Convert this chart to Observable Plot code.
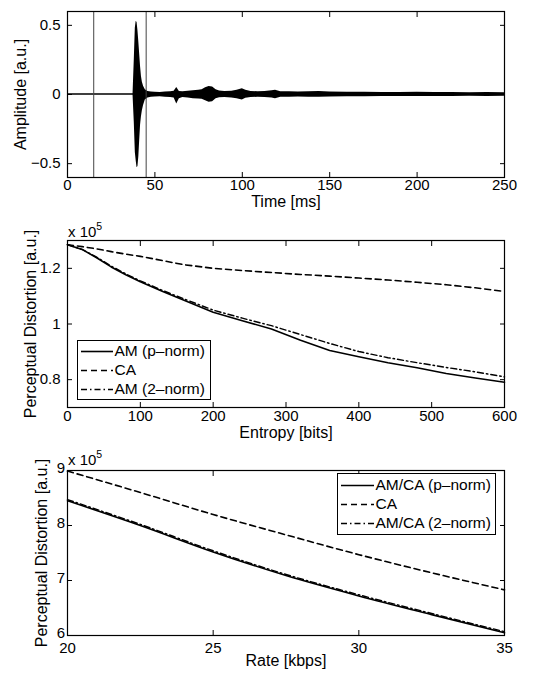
<!DOCTYPE html>
<html>
<head>
<meta charset="utf-8">
<script src="https://cdn.jsdelivr.net/npm/d3@7"></script>
<script src="https://cdn.jsdelivr.net/npm/@observablehq/plot@0.6"></script>
<style>
html,body{margin:0;padding:0;background:#fff;}
#root{position:relative;width:540px;height:673px;overflow:hidden;font-family:"Liberation Sans",Arial,Helvetica,sans-serif;color:#000;background:#fff;}
#root > svg{display:block;}
.legend{position:absolute;box-sizing:border-box;border:1.2px solid #000;background:#fff;font-size:15.5px;display:flex;flex-direction:column;justify-content:center;}
.legend .row{display:flex;align-items:center;height:19px;white-space:nowrap;}
.legend svg{flex:none;display:block;}
.exp{position:absolute;font-size:15px;line-height:18px;white-space:nowrap;}
.exp sup{font-size:10.5px;vertical-align:0;position:relative;top:-7px;}
</style>
</head>
<body>
<div id="root"></div>
<script>
// ---------- Panel 1: waveform envelope ----------
const timeMs = [
  0, 37.5, 38.2, 38.8, 39.3, 39.8, 40.3, 40.8, 41.3, 41.8,
  42.3, 42.8, 43.5, 44.5, 46, 48, 50, 53, 56, 59,
  61, 62.5, 64, 66, 69, 72, 75, 77, 79, 81,
  83, 85, 87, 90, 94, 97, 100, 102, 105, 109,
  113, 117, 119, 122, 127, 132, 138, 144, 150, 160,
  170, 180, 190, 200, 210, 220, 230, 240, 250
];
const amplitudeUpper = [
  .006, .006, .25, .48, .53, .52, .46, .38, .29, .20,
  .13, .09, .06, .035, .022, .018, .016, .015, .018, .020,
  .024, .050, .022, .020, .024, .028, .030, .035, .048, .058,
  .055, .035, .025, .022, .024, .030, .042, .030, .022, .020,
  .022, .028, .030, .020, .020, .018, .020, .022, .018, .016,
  .016, .015, .014, .016, .015, .014, .013, .014, .012
];
const amplitudeLower = [
  -.006, -.006, -.20, -.42, -.48, -.53, -.52, -.45, -.33, -.22,
  -.16, -.12, -.08, -.040, -.025, -.020, -.018, -.016, -.020, -.022,
  -.026, -.068, -.030, -.022, -.026, -.030, -.032, -.035, -.045, -.056,
  -.052, -.030, -.024, -.022, -.025, -.030, -.040, -.028, -.022, -.020,
  -.022, -.026, -.030, -.020, -.020, -.018, -.020, -.020, -.018, -.016,
  -.016, -.015, -.014, -.015, -.015, -.014, -.013, -.014, -.012
];
const markerTimes = [15, 45];
const timeTicks = [0, 50, 100, 150, 200, 250];
const amplitudeTicks = [-0.5, 0, 0.5];

// ---------- Panel 2: distortion vs entropy (x 10^5) ----------
const entropyBits   = [0, 20, 40, 60, 80, 100, 130, 160, 200, 240, 280, 320, 360, 400, 440, 480, 520, 560, 600];
const amPnormEnt    = [1.285, 1.268, 1.238, 1.205, 1.177, 1.152, 1.118, 1.085, 1.042, 1.012, 0.982, 0.942, 0.905, 0.882, 0.861, 0.843, 0.822, 0.806, 0.791];
const caEnt         = [1.285, 1.278, 1.270, 1.260, 1.251, 1.243, 1.228, 1.213, 1.200, 1.192, 1.185, 1.178, 1.172, 1.165, 1.158, 1.150, 1.141, 1.130, 1.117];
const am2normEnt    = [1.285, 1.268, 1.240, 1.208, 1.180, 1.155, 1.121, 1.090, 1.050, 1.021, 0.994, 0.962, 0.930, 0.901, 0.879, 0.861, 0.844, 0.828, 0.810];
const entropyTicks  = [0, 100, 200, 300, 400, 500, 600];
const distEntTicks  = [0.8, 1, 1.2];
const entropyLegend = ["AM (p\u2013norm)", "CA", "AM (2\u2013norm)"];

// ---------- Panel 3: distortion vs rate (x 10^5) ----------
const rateKbps      = [20, 22.5, 25, 27.5, 30, 32.5, 35];
const amcaPnormRate = [8.45, 8.00, 7.52, 7.09, 6.72, 6.38, 6.05];
const caRate        = [8.99, 8.60, 8.20, 7.83, 7.47, 7.14, 6.83];
const amca2normRate = [8.47, 8.02, 7.54, 7.11, 6.74, 6.40, 6.07];
const rateTicks     = [20, 25, 30, 35];
const distRateTicks = [6, 7, 8, 9];
const rateLegend    = ["AM/CA (p\u2013norm)", "CA", "AM/CA (2\u2013norm)"];

// ---------- styling ----------
const FONT = '"Liberation Sans", Arial, Helvetica, sans-serif';
const ML = 67, MR = 36;
const LW = 1.6;
const DASH = "6,4";
const DASHDOT = "6,3,1.5,3";
const fmt = d3.format("~g");
const blank = () => "";

function boxAxes(xTicks, yTicks, xPad, yPad, yDy) {
  return [
    Plot.axisX(xTicks, {anchor: "bottom", tickSize: 0, tickPadding: xPad, tickFormat: fmt, label: null, fontSize: 15}),
    Plot.axisY(yTicks, {anchor: "left", tickSize: 0, tickPadding: yPad, dy: yDy, tickFormat: fmt, label: null, fontSize: 15}),
    Plot.axisX(xTicks, {anchor: "bottom", tickSize: 5, dy: -5, tickFormat: blank, label: null}),
    Plot.axisX(xTicks, {anchor: "top", tickSize: 5, dy: 5, tickFormat: blank, label: null}),
    Plot.axisY(yTicks, {anchor: "left", tickSize: 5, dx: 5, tickFormat: blank, label: null}),
    Plot.axisY(yTicks, {anchor: "right", tickSize: 5, dx: -5, tickFormat: blank, label: null}),
    Plot.frame({stroke: "black", strokeWidth: 1.2})
  ];
}

function makePlot(o) {
  return Plot.plot({
    width: 540, height: o.height,
    marginLeft: ML, marginRight: MR, marginTop: o.marginTop, marginBottom: o.marginBottom,
    x: {domain: o.xDomain}, y: {domain: o.yDomain},
    style: {fontFamily: FONT, fontSize: "15px", color: "black", background: "transparent", overflow: "visible"},
    marks: [
      ...o.marks,
      ...boxAxes(o.xTicks, o.yTicks, o.xPad, o.yPad, o.yDy || 0),
      Plot.text([o.xLabel], {text: d => d, frameAnchor: "bottom", dy: o.xLabelDy, lineAnchor: "middle", textAnchor: "middle", fontSize: 16}),
      Plot.text([o.yLabel], {text: d => d, frameAnchor: "left", dx: o.yLabelDx, rotate: -90, lineAnchor: "middle", textAnchor: "middle", fontSize: 16})
    ]
  });
}

const root = document.getElementById("root");

// Panel 1
const waveRows = timeMs.map((t, i) => ({t, hi: amplitudeUpper[i], lo: amplitudeLower[i]}));
root.appendChild(makePlot({
  height: 215, marginTop: 11, marginBottom: 38,
  xDomain: [0, 250], yDomain: [-0.6, 0.6],
  xTicks: timeTicks, yTicks: amplitudeTicks, xPad: 1.5, yPad: 7,
  xLabel: "Time [ms]", xLabelDy: 24, yLabel: "Amplitude [a.u.]", yLabelDx: -46.3,
  marks: [
    Plot.areaY(waveRows, {x: "t", y1: "lo", y2: "hi", fill: "black"}),
    Plot.ruleX(markerTimes, {x: d => d, stroke: "#444", strokeWidth: 1})
  ]
}));

// Panel 2
const entRows = entropyBits.map((x, i) => ({x, am: amPnormEnt[i], ca: caEnt[i], am2: am2normEnt[i]}));
root.appendChild(makePlot({
  height: 225, marginTop: 25, marginBottom: 33,
  xDomain: [0, 600], yDomain: [0.7, 1.3],
  xTicks: entropyTicks, yTicks: distEntTicks, xPad: 3, yPad: 7,
  xLabel: "Entropy [bits]", xLabelDy: 25.5, yLabel: "Perceptual Distortion [a.u.]", yLabelDx: -37,
  marks: [
    Plot.line(entRows, {x: "x", y: "ca", stroke: "black", strokeWidth: LW, strokeDasharray: DASH}),
    Plot.line(entRows, {x: "x", y: "am2", stroke: "black", strokeWidth: LW * 0.9, strokeDasharray: DASHDOT}),
    Plot.line(entRows, {x: "x", y: "am", stroke: "black", strokeWidth: LW})
  ]
}));

// Panel 3
const rateRows = rateKbps.map((x, i) => ({x, am: amcaPnormRate[i], ca: caRate[i], am2: amca2normRate[i]}));
root.appendChild(makePlot({
  height: 233, marginTop: 30, marginBottom: 38,
  xDomain: [20, 35], yDomain: [6, 9],
  xTicks: rateTicks, yTicks: distRateTicks, xPad: 7, yPad: 2.5, yDy: -2,
  xLabel: "Rate [kbps]", xLabelDy: 25, yLabel: "Perceptual Distortion [a.u.]", yLabelDx: -25.3,
  marks: [
    Plot.line(rateRows, {x: "x", y: "ca", stroke: "black", strokeWidth: LW, strokeDasharray: DASH, curve: "monotone-x"}),
    Plot.line(rateRows, {x: "x", y: "am2", stroke: "black", strokeWidth: LW * 0.9, strokeDasharray: DASHDOT, curve: "monotone-x"}),
    Plot.line(rateRows, {x: "x", y: "am", stroke: "black", strokeWidth: LW, curve: "monotone-x"})
  ]
}));

// Exponent labels
function addExp(left, top) {
  const d = document.createElement("div");
  d.className = "exp";
  d.style.left = left + "px";
  d.style.top = top + "px";
  d.innerHTML = "x 10<sup>5</sup>";
  root.appendChild(d);
}
addExp(68, 223);
addExp(68, 451);

// Legends
const legendStyles = [{}, {dash: DASH}, {dash: DASHDOT}];
function addLegend(labels, left, top, width, height, lineStart, lineEnd, textGap) {
  const box = document.createElement("div");
  box.className = "legend";
  Object.assign(box.style, {left: left + "px", top: top + "px", width: width + "px", height: height + "px"});
  labels.forEach((lab, i) => {
    const row = document.createElement("div");
    row.className = "row";
    const s = legendStyles[i];
    row.innerHTML =
      `<svg width="${lineEnd + textGap}" height="19"><line x1="${lineStart}" x2="${lineEnd}" y1="9.5" y2="9.5" stroke="#000" stroke-width="${LW}" ${s.dash ? `stroke-dasharray="${s.dash}"` : ""}/></svg><span>${lab}</span>`;
    box.appendChild(row);
  });
  root.appendChild(box);
}
addLegend(entropyLegend, 77, 340, 134, 60, 3, 35, 1.5);
addLegend(rateLegend, 337, 473, 159, 62, 3, 36, 1.5);
</script>
</body>
</html>
